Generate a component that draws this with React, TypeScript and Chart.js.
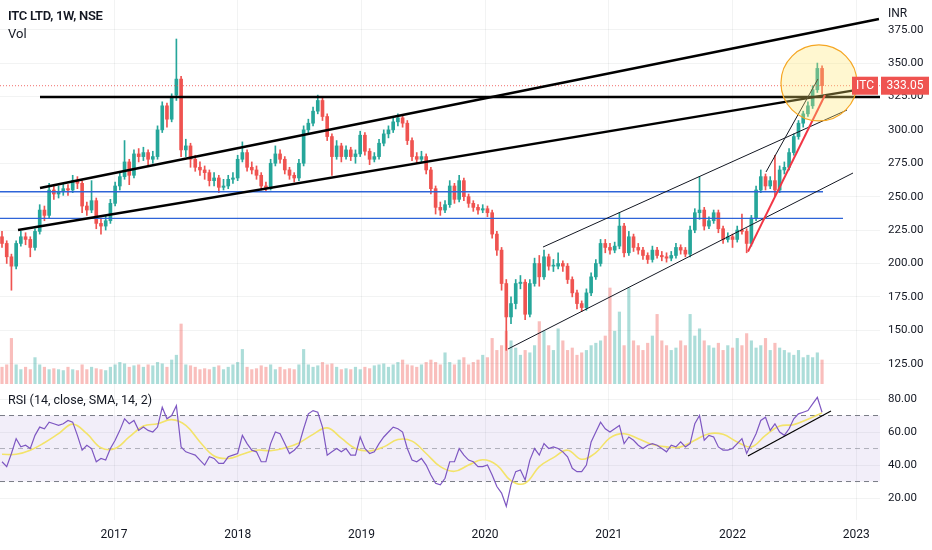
import React, { useEffect, useRef } from "react";
import { Chart, registerables } from "chart.js";
Chart.register(...registerables);

// ---- time axis (decimal years) ----
const T0 = 2016.0946; // first candle
const STEP = 0.0381; // candle spacing (2 weeks)
const X_MIN = 2016.0784;
const X_MAX = 2023.1924;
const YEARS = [2017, 2018, 2019, 2020, 2021, 2022, 2023];

// ---- price pane ----
const PRICE_MIN = 109.8;
const PRICE_MAX = 397.2;
const PRICE_TICKS = [125, 150, 175, 200, 225, 250, 275, 300, 325, 350, 375];
const LAST_PRICE = 333.05;

const O = [220,215,205,198,215,220,218,212,224,240, 236,255,252,254,256,255,262,260,243,240, 247,230,228,232,245,258,265,276,266,282, 280,283,278,280,300,318,308,326,338,285, 288,278,272,270,268,262,264,257,258,263, 264,278,283,272,270,266,258,256,275,282, 278,270,266,264,275,300,305,314,322,310, 295,280,288,280,285,280,282,296,284,278, 280,290,297,300,306,309,305,292,280,278, 280,270,256,242,240,244,258,248,262,250, 245,242,240,241,238,222,210,185,160,170, 185,186,162,185,200,190,205,198,198,200, 198,188,178,170,167,178,190,200,215,212, 210,213,228,208,220,212,210,206,203,210, 206,205,204,206,212,210,207,225,238,240, 228,232,238,226,218,220,218,225,224,215, 234,255,265,258,262,255,270,272,283,295, 305,312,318,330,346];
const H = [224,217,207,217,224,223,220,226,244,243, 260,258,258,260,259,266,265,262,246,262, 249,234,236,248,261,268,292,278,285,286, 287,285,284,303,321,320,327,368,340,293, 290,281,276,273,270,268,266,263,266,268, 281,291,285,276,273,268,261,278,288,285, 280,272,268,278,303,308,317,326,324,312, 297,292,290,288,287,285,299,298,286,283, 293,300,303,309,312,311,307,294,283,284, 282,272,258,246,247,262,260,266,264,252, 247,244,244,243,240,224,212,188,175,188, 191,188,188,204,206,210,207,203,208,202, 200,190,180,172,181,193,203,218,218,215, 216,238,230,224,222,215,212,208,213,212, 209,208,209,215,214,212,228,241,265,242, 235,240,240,228,223,222,228,237,226,236, 258,270,267,265,281,273,276,286,297,307, 314,321,333,350,348];
const L = [212,200,180,196,213,214,205,210,222,232, 234,248,249,251,251,253,256,238,236,238, 226,222,225,230,243,255,263,259,264,276, 277,274,275,278,298,302,306,322,280,280, 272,269,266,263,258,258,253,255,256,260, 262,276,269,267,263,255,254,255,273,275, 267,263,261,262,273,297,303,312,307,292, 266,278,276,278,277,275,280,281,274,276, 278,288,294,298,303,302,289,277,275,276, 267,252,237,236,238,242,245,246,247,242, 239,237,238,235,219,206,180,135,155,166, 181,158,160,183,183,188,195,194,196,194, 185,175,166,164,165,176,188,198,208,207, 208,211,205,206,209,207,203,200,201,204, 202,201,202,204,207,205,205,223,233,225, 226,230,223,215,216,212,216,222,208,213, 232,253,255,256,250,253,267,270,281,293, 302,310,316,328,327];
const C = [215,205,198,215,220,218,212,224,240,236, 255,252,254,256,255,262,260,243,240,247, 230,228,232,245,258,265,276,266,282,280, 283,278,280,300,318,308,325,338,285,288, 278,272,270,268,262,264,257,258,263,264, 278,283,272,270,266,258,256,275,282,278, 270,266,264,275,300,305,314,322,310,295, 280,288,280,285,280,282,296,284,278,280, 290,297,300,306,309,305,292,280,278,280, 270,256,242,240,244,258,248,262,250,245, 242,240,241,238,222,210,185,160,170,185, 186,162,185,200,190,205,198,198,200,198, 188,178,170,167,178,190,200,215,212,210, 213,228,208,220,212,210,206,203,210,206, 205,204,206,212,210,207,225,238,240,228, 232,238,226,218,220,218,225,224,215,234, 255,265,258,262,255,270,272,283,295,305, 312,318,330,346,333.05];

// volume (millions)
const VOL = [35,40,95,40,30,35,30,55,40,35, 30,32,30,28,35,30,28,40,30,35, 32,30,28,35,40,45,42,35,38,40, 35,40,38,45,42,35,50,60,125,40, 38,35,30,32,30,35,38,30,35,40, 45,72,35,30,32,38,35,40,30,35, 30,32,30,40,72,40,35,38,45,40, 42,35,30,32,30,35,30,35,32,38, 40,42,35,40,45,50,40,38,35,40, 45,50,45,40,65,45,40,50,55,40, 45,50,60,55,95,70,80,110,90,75, 60,70,65,80,130,110,80,70,115,90, 70,75,60,65,70,80,85,90,100,200, 110,150,80,200,90,80,70,85,100,145, 90,80,70,75,90,80,145,100,115,90, 80,75,85,70,80,75,95,80,105,90, 75,80,95,70,85,75,70,65,60,70, 55,60,55,65,50];
const VOL_MAX = 800;

// ---- RSI pane ----
const RSI_MIN = 6.7;
const RSI_MAX = 89.1;
const RSI_TICKS = [20, 40, 60, 80];
const RSI = [42,39,47,56,51,52,50,58,63,62, 66,65,64,65,67,66,58,49,52,50, 42,44,43,50,55,61,68,65,67,61, 63,61,60,63,75,68,70,76,51,48, 47,46,43,40,45,44,41,41,45,46, 47,58,53,49,48,42,42,53,60,59, 53,47,49,52,62,71,73,72,63,46, 48,50,48,50,46,46,57,50,47,48, 53,57,60,63,62,60,50,43,42,44, 40,34,29,28,32,42,42,50,46,43, 42,39,39,40,34,27,23,15,28,36, 37,31,43,50,46,53,50,51,50,48, 45,38,36,36,40,54,60,66,62,60, 62,64,53,57,55,52,50,52,53,52, 50,48,52,51,54,51,53,65,70,55, 58,57,51,49,49,50,53,56,47,53, 59,67,69,61,65,60,58,62,68,71, 72,73,77,81,72];
// RSI-based MA, read every 3rd candle
const RSI_MA_EVERY = 3;
const RSI_MA = [46.5,46.5,49,53.5,59,64.8,59,50.5,50,57, 63.6,65,67.5,64,54,45.5,44,46.5,49,48.7, 50.3,53.4,58.6,62.5,56.3,50,48.5,51,55.5,54.5, 47,39,36.2,40,43.2,40,30.5,29,39,44.5, 49,43.5,47.5,56.5,59,56,52.5,51,51,55, 59,58.6,54,51,58,63.6,64.5,67.8,71.6];
const RSI_LEVELS = [70, 50, 30];

// ---- drawings (endpoints as [year, value]) ----
const H_RESIST: number[][] = [[2016.4018, 324.6], [2023.1924, 324.6]];
const UPPER_LONG: number[][] = [[2016.4018, 256.5], [2023.184, 383.0]];
const LOWER_LONG: number[][] = [[2016.224, 225.1], [2023.006, 329.9]];
const BLUE_HIGH: number[][] = [[2016.0784, 253.7], [2022.7316, 253.7]];
const BLUE_LOW: number[][] = [[2016.0784, 233.8], [2022.8933, 233.8]];
const CHAN_LOW: number[][] = [[2020.185, 136.0], [2022.974, 267.7]];
const CHAN_HIGH: number[][] = [[2020.468, 212.3], [2022.926, 314.9]];
const STEEP: number[][] = [[2022.271, 268.5], [2022.691, 338.1]];
const RED_TREND: number[][] = [[2022.125, 208.9], [2022.748, 326.1]];
const CIRCLE = { x: 2022.699, y: 335.1, r: 38 };
const RSI_TREND: number[][] = [[2022.125, 45.5], [2022.796, 72.7]];

const FONT = "Roboto, 'Noto Sans', sans-serif";
const TXT = "#131722";
const GRID = "rgba(42,46,57,0.06)";
const GREEN = "#26a69a";
const RED = "#ef5350";

function seg(pts: number[][], color: string, width: number, order: number, dash: number[] = []) {
  return {
    type: "line" as const,
    data: pts.map((p) => ({ x: p[0], y: p[1] })),
    borderColor: color,
    borderWidth: width,
    borderDash: dash,
    pointRadius: 0,
    fill: false,
    order,
  };
}

function noPad(s: any) {
  s.paddingTop = 0;
  s.paddingBottom = 0;
  s.paddingLeft = 0;
  s.paddingRight = 0;
}

function xAxis(showLabels: boolean) {
  return {
    type: "linear" as const,
    min: X_MIN,
    max: X_MAX,
    offset: false,
    grid: { color: GRID, drawTicks: false, offset: false },
    border: { display: false },
    ticks: {
      display: showLabels,
      autoSkip: false,
      maxRotation: 0,
      padding: 8,
      color: TXT,
      font: { family: FONT, size: 12 },
      callback: (v: any) => String(v),
    },
    afterBuildTicks: (s: any) => {
      s.ticks = YEARS.map((v) => ({ value: v }));
    },
    afterFit: (s: any) => {
      s.height = showLabels ? 30 : 0;
      noPad(s);
    },
  };
}

function yAxis(min: number, max: number, ticks: number[]) {
  return {
    position: "right" as const,
    min,
    max,
    grid: { color: GRID, drawTicks: false },
    border: { display: false },
    ticks: {
      padding: 8,
      color: TXT,
      font: { family: FONT, size: 11.5 },
      callback: (v: any) => Number(v).toFixed(2),
    },
    afterBuildTicks: (s: any) => {
      s.ticks = ticks.map((v) => ({ value: v }));
    },
    afterFit: (s: any) => {
      s.width = 52;
      noPad(s);
    },
  };
}

const priceTag = {
  id: "priceTag",
  afterDraw(chart: any) {
    const { ctx, chartArea } = chart;
    const y = chart.scales.y.getPixelForValue(LAST_PRICE);
    const r = chartArea.right;
    ctx.save();
    ctx.fillStyle = RED;
    ctx.fillRect(r - 28, y - 9, 26, 18);
    ctx.fillRect(r + 1, y - 9, 48, 18);
    ctx.fillStyle = "#ffffff";
    ctx.textBaseline = "middle";
    ctx.textAlign = "center";
    ctx.font = `12px ${FONT}`;
    ctx.fillText("ITC", r - 15, y + 0.5);
    ctx.fillText(LAST_PRICE.toFixed(2), r + 25, y + 0.5);
    ctx.restore();
  },
};

export default function App() {
  const mainRef = useRef<HTMLCanvasElement>(null);
  const rsiRef = useRef<HTMLCanvasElement>(null);

  useEffect(() => {
    document.body.style.margin = "0";
    const times = C.map((_, i) => T0 + i * STEP);
    const up = C.map((c, i) => c >= O[i]);
    const candleColors = up.map((u) => (u ? GREEN : RED));
    const volColors = up.map((u) => (u ? "rgba(38,166,154,0.38)" : "rgba(239,83,80,0.38)"));

    const main = new Chart(mainRef.current!, {
      type: "bar",
      data: {
        datasets: [
          {
            type: "bar",
            data: times.map((t, i) => ({ x: t, y: VOL[i] })),
            yAxisID: "yv",
            backgroundColor: volColors,
            barThickness: 2.5,
            grouped: false,
            order: 30,
          } as any,
          {
            type: "bar",
            data: times.map((t, i) => ({ x: t, y: [L[i], H[i]] })),
            yAxisID: "y",
            backgroundColor: candleColors,
            barThickness: 1,
            grouped: false,
            order: 21,
          } as any,
          {
            type: "bar",
            data: times.map((t, i) => ({ x: t, y: [O[i], C[i]] })),
            yAxisID: "y",
            backgroundColor: candleColors,
            barThickness: 3,
            minBarLength: 1,
            grouped: false,
            order: 20,
          } as any,
          seg([[X_MIN, LAST_PRICE], [X_MAX, LAST_PRICE]], "rgba(239,83,80,0.85)", 1, 15, [1, 2]),
          seg(BLUE_HIGH, "#2e64d8", 1.3, 10),
          seg(BLUE_LOW, "#2e64d8", 1.3, 10),
          seg(H_RESIST, "#000000", 2.6, 8),
          seg(UPPER_LONG, "#000000", 2.4, 8),
          seg(LOWER_LONG, "#000000", 2.4, 8),
          seg(CHAN_LOW, "#131722", 1, 7),
          seg(CHAN_HIGH, "#131722", 1, 7),
          seg(STEEP, "#131722", 1, 7),
          seg(RED_TREND, "#f23645", 2, 6),
          {
            type: "bubble",
            data: [CIRCLE],
            backgroundColor: "rgba(255,230,110,0.32)",
            borderColor: "#f5a623",
            borderWidth: 1.2,
            order: 2,
          } as any,
        ],
      },
      options: {
        responsive: false,
        animation: false,
        events: [],
        layout: { padding: 0, autoPadding: false },
        plugins: { legend: { display: false }, tooltip: { enabled: false } },
        scales: {
          x: xAxis(false),
          y: yAxis(PRICE_MIN, PRICE_MAX, PRICE_TICKS),
          yv: { display: false, min: 0, max: VOL_MAX },
        } as any,
      },
      plugins: [priceTag],
    });

    const maTimes = RSI_MA.map((_, k) => T0 + k * RSI_MA_EVERY * STEP);
    const rsi = new Chart(rsiRef.current!, {
      type: "line",
      data: {
        datasets: [
          {
            data: [{ x: X_MIN, y: RSI_LEVELS[0] }, { x: X_MAX, y: RSI_LEVELS[0] }],
            borderWidth: 0,
            pointRadius: 0,
            backgroundColor: "rgba(126,87,194,0.1)",
            fill: { value: RSI_LEVELS[2] },
            order: 20,
          } as any,
          seg([[X_MIN, RSI_LEVELS[0]], [X_MAX, RSI_LEVELS[0]]], "#787b86", 1, 15, [5, 4]),
          seg([[X_MIN, RSI_LEVELS[1]], [X_MAX, RSI_LEVELS[1]]], "rgba(120,123,134,0.55)", 1, 15, [5, 4]),
          seg([[X_MIN, RSI_LEVELS[2]], [X_MAX, RSI_LEVELS[2]]], "#787b86", 1, 15, [5, 4]),
          {
            data: maTimes.map((t, k) => ({ x: t, y: RSI_MA[k] })),
            borderColor: "#f3e36a",
            borderWidth: 1.6,
            pointRadius: 0,
            tension: 0.4,
            fill: false,
            order: 6,
          },
          {
            data: times.map((t, i) => ({ x: t, y: RSI[i] })),
            borderColor: "#7e57c2",
            borderWidth: 1.2,
            pointRadius: 0,
            fill: false,
            order: 5,
          },
          seg(RSI_TREND, "#000000", 1.2, 1),
        ],
      },
      options: {
        responsive: false,
        animation: false,
        events: [],
        layout: { padding: 0, autoPadding: false },
        plugins: { legend: { display: false }, tooltip: { enabled: false } },
        scales: {
          x: xAxis(true),
          y: yAxis(RSI_MIN, RSI_MAX, RSI_TICKS),
        } as any,
      },
    });

    return () => {
      main.destroy();
      rsi.destroy();
    };
  }, []);

  const label: React.CSSProperties = {
    position: "absolute",
    fontFamily: FONT,
    color: TXT,
    whiteSpace: "nowrap",
    pointerEvents: "none",
  };

  return (
    <div style={{ position: "relative", width: 932, height: 550, background: "#ffffff", overflow: "hidden" }}>
      <canvas ref={mainRef} width={932} height={384} style={{ position: "absolute", left: 0, top: 0, width: 932, height: 384 }} />
      <canvas ref={rsiRef} width={932} height={166} style={{ position: "absolute", left: 0, top: 384, width: 932, height: 166 }} />
      <div style={{ ...label, left: 8, top: 8, fontSize: 13, fontWeight: 600, letterSpacing: -0.3 }}>ITC LTD, 1W, NSE</div>
      <div style={{ ...label, left: 8, top: 26, fontSize: 13 }}>Vol</div>
      <div style={{ ...label, left: 888, top: 6, fontSize: 12, background: "#ffffff" }}>INR</div>
      <div style={{ ...label, left: 8, top: 392, fontSize: 12.5 }}>RSI (14, close, SMA, 14, 2)</div>
    </div>
  );
}
